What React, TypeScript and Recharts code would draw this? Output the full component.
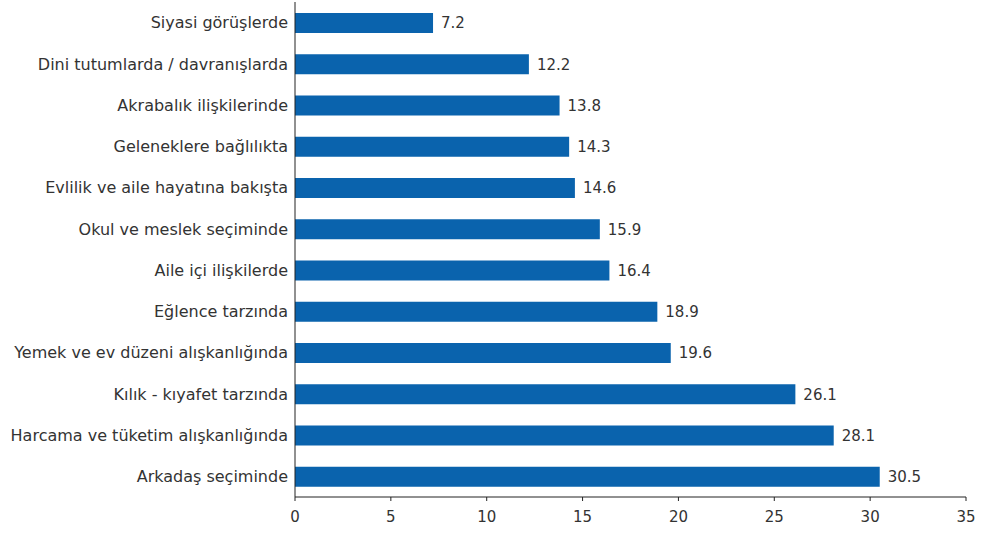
import { BarChart, Bar, XAxis, YAxis, LabelList } from 'recharts'

const categories = [
  'Siyasi görüşlerde',
  'Dini tutumlarda / davranışlarda',
  'Akrabalık ilişkilerinde',
  'Geleneklere bağlılıkta',
  'Evlilik ve aile hayatına bakışta',
  'Okul ve meslek seçiminde',
  'Aile içi ilişkilerde',
  'Eğlence tarzında',
  'Yemek ve ev düzeni alışkanlığında',
  'Kılık - kıyafet tarzında',
  'Harcama ve tüketim alışkanlığında',
  'Arkadaş seçiminde',
]

const values = [7.2, 12.2, 13.8, 14.3, 14.6, 15.9, 16.4, 18.9, 19.6, 26.1, 28.1, 30.5]

const xTicks = [0, 5, 10, 15, 20, 25, 30, 35]

const data = categories.map((name, i) => ({ name, value: values[i] }))

const FONT = '"DejaVu Sans", Verdana, sans-serif'
const TEXT = '#333333'
const BAR = '#0A63AD'

export default function App() {
  return (
    <div style={{ position: 'absolute', left: 0, top: 0, width: 984, height: 533, background: '#fff' }}>
      <BarChart
        width={984}
        height={533}
        data={data}
        layout="vertical"
        margin={{ top: 2, right: 18, bottom: 0, left: 0 }}
      >
        <XAxis
          type="number"
          domain={[0, 35]}
          ticks={xTicks}
          height={36}
          axisLine={{ stroke: '#222' }}
          tickLine={{ stroke: '#222' }}
          tickSize={4}
          tickMargin={10}
          tick={{ fontSize: 15, fill: TEXT, fontFamily: FONT }}
        />
        <YAxis
          type="category"
          dataKey="name"
          width={295}
          axisLine={{ stroke: '#222' }}
          tickLine={false}
          tickSize={3}
          tickMargin={4}
          tick={{ fontSize: 16, fill: TEXT, fontFamily: FONT }}
        />
        <Bar dataKey="value" fill={BAR} barSize={20} isAnimationActive={false}>
          <LabelList
            dataKey="value"
            position="right"
            offset={8}
            formatter={(v: number) => v.toFixed(1)}
            style={{ fontSize: 15, fill: TEXT, fontFamily: FONT }}
          />
        </Bar>
      </BarChart>
    </div>
  )
}
